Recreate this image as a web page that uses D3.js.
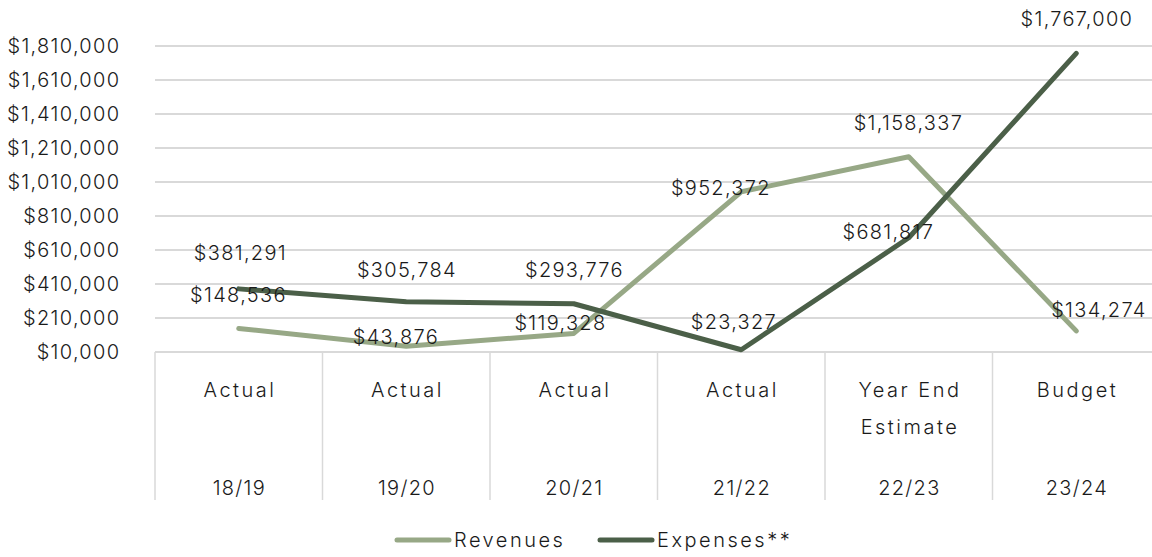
<!DOCTYPE html>
<html>
<head>
<meta charset="utf-8">
<script src="https://cdn.jsdelivr.net/npm/d3@7"></script>
<style>
  html, body { margin: 0; padding: 0; background: #fff; }
  svg { display: block; font-family: "Inter", "Noto Sans", sans-serif; font-weight: 300; }
</style>
</head>
<body>
<svg id="chart" width="1152" height="557"></svg>
<script>
// Fiscal periods (two-level category axis)
const periods = ["18/19", "19/20", "20/21", "21/22", "22/23", "23/24"];
const periodTypes = [["Actual"], ["Actual"], ["Actual"], ["Actual"], ["Year End", "Estimate"], ["Budget"]];

// Series values
const revenues = [148536, 43876, 119328, 952372, 1158337, 134274];
const expenses = [381291, 305784, 293776, 23327, 681817, 1767000];

// Y axis ticks
const yTicks = [10000, 210000, 410000, 610000, 810000, 1010000, 1210000, 1410000, 1610000, 1810000];

// Data-label nudges (px) relative to each point
const revLabelNudge = [[-1, -33], [-11, -9], [-14, -10], [-21, -4], [-1, -34], [22, -21]];
const expLabelNudge = [[1, -36], [0, -32], [0, -34], [-8, -28], [-21, -6], [0, -34]];

const svg = d3.select("#chart");
const plot = { left: 155, right: 1160, top: 46, bottom: 352 };
const fontSize = 20;
const numSpacing = 1.3;  // letter spacing for figures
const wordSpacing = 2.5; // letter spacing for words
const ink = "#1a1a1a";

const x = d3.scaleBand().domain(periods).range([plot.left, plot.right]).padding(0);
const y = d3.scaleLinear().domain([10000, 1810000]).range([plot.bottom, plot.top]);
const cx = d => x(d) + x.bandwidth() / 2;
const fmt = v => "$" + d3.format(",")(v);

// Horizontal gridlines
svg.append("g")
  .selectAll("line")
  .data(yTicks)
  .join("line")
  .attr("x1", plot.left).attr("x2", plot.right)
  .attr("y1", d => y(d)).attr("y2", d => y(d))
  .attr("stroke", "#d9d9d9").attr("stroke-width", 2);

// Y axis labels
const yAxis = d3.axisLeft(y).tickValues(yTicks).tickFormat(fmt).tickSize(0).tickPadding(36 - numSpacing);
const yg = svg.append("g").attr("transform", `translate(${plot.left},0)`).call(yAxis);
yg.select(".domain").remove();
yg.selectAll("text")
  .attr("font-family", "Inter, 'Noto Sans', sans-serif")
  .attr("font-weight", 300)
  .attr("letter-spacing", numSpacing)
  .attr("font-size", fontSize).attr("fill", ink);

// Category axis: baseline + band dividers
const axisBottom = 500;
svg.append("line")
  .attr("x1", plot.left).attr("x2", plot.right)
  .attr("y1", plot.bottom).attr("y2", plot.bottom)
  .attr("stroke", "#d9d9d9").attr("stroke-width", 2);
svg.append("g")
  .selectAll("line")
  .data(periods.concat(["end"]))
  .join("line")
  .attr("x1", (d, i) => i < periods.length ? x(d) : plot.right)
  .attr("x2", (d, i) => i < periods.length ? x(d) : plot.right)
  .attr("y1", plot.bottom).attr("y2", axisBottom)
  .attr("stroke", "#d9d9d9").attr("stroke-width", 1.5);

// Period type labels (may wrap to two lines)
const typeG = svg.append("g").attr("font-size", fontSize).attr("fill", ink)
  .attr("text-anchor", "middle").attr("letter-spacing", wordSpacing);
periods.forEach((p, i) => {
  periodTypes[i].forEach((t, j) => {
    typeG.append("text")
      .attr("x", cx(p) + wordSpacing / 2).attr("y", 397 + j * 37)
      .text(t);
  });
});
// Period year labels
svg.append("g").attr("font-size", fontSize).attr("fill", ink)
  .attr("text-anchor", "middle").attr("letter-spacing", numSpacing)
  .selectAll("text")
  .data(periods)
  .join("text")
  .attr("x", d => cx(d) + numSpacing / 2).attr("y", 495)
  .text(d => d);

// Lines
const line = d3.line().x((d, i) => cx(periods[i])).y(d => y(d));
const series = [
  { name: "Revenues", values: revenues, color: "#97a886", nudge: revLabelNudge },
  { name: "Expenses**", values: expenses, color: "#4b5f48", nudge: expLabelNudge }
];
series.forEach(s => {
  svg.append("path")
    .datum(s.values)
    .attr("d", line)
    .attr("fill", "none")
    .attr("stroke", s.color)
    .attr("stroke-width", 5)
    .attr("stroke-linecap", "round")
    .attr("stroke-linejoin", "round");
});

// Data labels
series.forEach(s => {
  svg.append("g").attr("font-size", fontSize).attr("fill", ink)
    .attr("text-anchor", "middle").attr("letter-spacing", numSpacing)
    .selectAll("text")
    .data(s.values)
    .join("text")
    .attr("x", (d, i) => cx(periods[i]) + s.nudge[i][0] + numSpacing / 2)
    .attr("y", (d, i) => y(d) + s.nudge[i][1])
    .attr("dy", "0.35em")
    .text(d => fmt(d));
});

// Legend
const legend = svg.append("g").attr("font-size", fontSize).attr("fill", ink).attr("letter-spacing", wordSpacing);
const legendItems = [{ s: series[0], x: 397 }, { s: series[1], x: 600 }];
legendItems.forEach(it => {
  legend.append("line")
    .attr("x1", it.x).attr("x2", it.x + 52)
    .attr("y1", 540).attr("y2", 540)
    .attr("stroke", it.s.color).attr("stroke-width", 5).attr("stroke-linecap", "round");
  legend.append("text")
    .attr("x", it.x + 57).attr("y", 540).attr("dy", "0.35em")
    .text(it.s.name);
});
</script>
</body>
</html>
